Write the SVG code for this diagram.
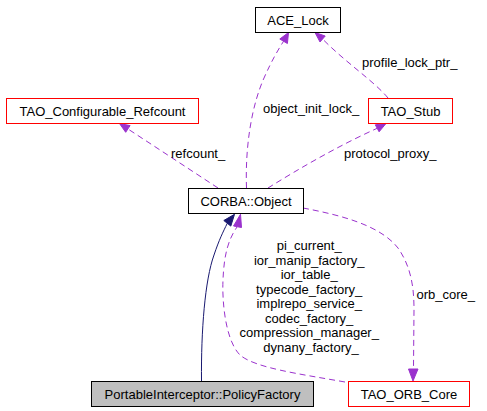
<svg xmlns="http://www.w3.org/2000/svg" width="487" height="411" viewBox="0 0 487 411">
<style>
.bg{fill:#ffffff}
.node rect{fill:#ffffff;stroke:#000000;stroke-width:1}
.node.red rect{stroke:#ff0000}
.node.cur rect{fill:#bfbfbf}
.node text{font-family:"Liberation Sans",Arial,sans-serif;font-size:13px;fill:#000000;text-anchor:middle}
.e{fill:none;stroke:#9a32cd;stroke-width:1;stroke-dasharray:6,4}
.ah{fill:#9a32cd;stroke:#9a32cd}
.inh{fill:none;stroke:#191970;stroke-width:1}
.ahn{fill:#191970;stroke:#191970}
.lbl{font-family:"Liberation Sans",Arial,sans-serif;font-size:13px;fill:#000000}
</style>
<rect class="bg" x="0" y="0" width="487" height="411"/>
<g id="connectors">
  <path class="e" d="M218,188 L128,129"/>
  <polygon class="ah" points="119.5,123.5 130.1,125.6 125.7,132.3"/>
  <text class="lbl" x="171" y="158">refcount_</text>

  <path class="e" d="M246.5,188 C 245,145 252,105 264,78 C 272,60 278,50 283.6,41.2"/>
  <polygon class="ah" points="288.5,32.5 287.4,43.5 279.8,39"/>
  <text class="lbl" x="263" y="113">object_init_lock_</text>

  <path class="e" d="M388,98 C 375,82 345,62 322.6,39"/>
  <polygon class="ah" points="315,32.5 325.2,36 320,42"/>
  <text class="lbl" x="362" y="67">profile_lock_ptr_</text>

  <path class="e" d="M268,188 C 300,168 340,145 377.2,128.3"/>
  <polygon class="ah" points="386,123.5 379.1,131.8 375.3,124.8"/>
  <text class="lbl" x="344" y="158">protocol_proxy_</text>

  <path class="inh" d="M201.5,381 C 201,330 205,280 214,255 C 219,240 223,232 227.3,223.3"/>
  <polygon class="ahn" points="234.5,214.3 230.8,226.1 223.8,220.5"/>

  <path class="e" d="M345,382 C 300,374 255,368 240,355 C 225,340 222,300 223,280 C 224,255 228,240 237,227"/>
  <polygon class="ah" points="240.5,214.3 241.5,227.5 233.5,226"/>
  <text class="lbl" text-anchor="middle">
    <tspan x="311" y="250">pi_current_</tspan>
    <tspan x="311" y="264.5">ior_manip_factory_</tspan>
    <tspan x="311" y="279">ior_table_</tspan>
    <tspan x="311" y="293.5">typecode_factory_</tspan>
    <tspan x="311" y="308">implrepo_service_</tspan>
    <tspan x="311" y="322.5">codec_factory_</tspan>
    <tspan x="311" y="337">compression_manager_</tspan>
    <tspan x="311" y="351.5">dynany_factory_</tspan>
  </text>

  <path class="e" d="M303,208 C 340,215 380,225 398,248 C 412,268 414,290 414,310 L 413.5,369"/>
  <polygon class="ah" points="413,381 408.5,369 418,369"/>
  <text class="lbl" x="416.5" y="299">orb_core_</text>
</g>
<g id="node_ace_lock" class="node">
  <rect x="255.5" y="7.5" width="85" height="25"/>
  <text x="298" y="24.5">ACE_Lock</text>
</g>
<g id="node_tao_configurable_refcount" class="node red">
  <rect x="6.5" y="98.5" width="192" height="25"/>
  <text x="102.5" y="115.5">TAO_Configurable_Refcount</text>
</g>
<g id="node_tao_stub" class="node red">
  <rect x="368.5" y="98.5" width="84" height="25"/>
  <text x="410.5" y="115.5">TAO_Stub</text>
</g>
<g id="node_corba_object" class="node">
  <rect x="188.5" y="188.5" width="115" height="25"/>
  <text x="246" y="205.5">CORBA::Object</text>
</g>
<g id="node_policy_factory" class="node cur">
  <rect x="91.5" y="381.5" width="222" height="25"/>
  <text x="202.5" y="398.5">PortableInterceptor::PolicyFactory</text>
</g>
<g id="node_tao_orb_core" class="node red">
  <rect x="348.5" y="381.5" width="121" height="25"/>
  <text x="409" y="398.5">TAO_ORB_Core</text>
</g>
</svg>
